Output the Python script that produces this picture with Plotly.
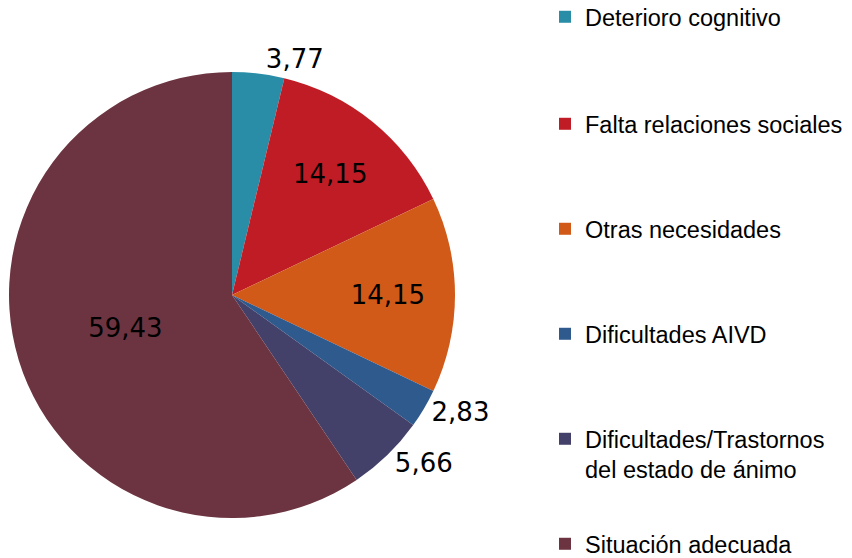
import plotly.graph_objects as go

categories = ["Deterioro cognitivo", "Falta relaciones sociales", "Otras necesidades",
              "Dificultades AIVD", "Dificultades/Trastornos<br>del estado de ánimo",
              "Situación adecuada"]
values = [3.77, 14.15, 14.15, 2.83, 5.66, 59.43]
colors = ["#2A8DA8", "#C01C25", "#D15A19", "#2F5A8E", "#434169", "#6C3441"]
text_positions = ["outside", "inside", "inside", "outside", "outside", "inside"]

W, H = 852, 558
fig = go.Figure()
fig.add_trace(go.Pie(
    labels=categories, values=values, sort=False, direction="clockwise", rotation=0,
    marker=dict(colors=colors, line=dict(width=0)),
    texttemplate="%{value:.2f}", textposition=text_positions,
    insidetextorientation="horizontal",
    textfont=dict(family="DejaVu Sans", size=26, color="black"),
    showlegend=False,
    domain=dict(x=[9 / W, 455 / W], y=[(H - 518) / H, (H - 72) / H]),
    hoverinfo="label+value",
))

legend_tops = [-5, 102, 207, 312, 417, 522]
layout_legends = {}
for i, (cat, col) in enumerate(zip(categories, colors)):
    name = "legend" if i == 0 else f"legend{i + 1}"
    fig.add_trace(go.Scatter(
        x=[None], y=[None], mode="markers", name=cat, legend=name,
        marker=dict(symbol="square", size=12, color=col),
    ))
    layout_legends[name] = dict(
        x=545 / W, xanchor="left", y=1 - legend_tops[i] / H, yanchor="top",
        font=dict(family="Liberation Sans", size=23.5, color="black"),
        bgcolor="rgba(0,0,0,0)", valign="top",
    )

fig.update_layout(
    width=W, height=H, margin=dict(l=0, r=0, t=0, b=0, autoexpand=False),
    paper_bgcolor="white", plot_bgcolor="white",
    separators=",.",
    xaxis=dict(visible=False), yaxis=dict(visible=False),
    **layout_legends,
)
fig.write_html("out.html", config={"displayModeBar": False},
               post_script="document.body.style.margin='0';")
